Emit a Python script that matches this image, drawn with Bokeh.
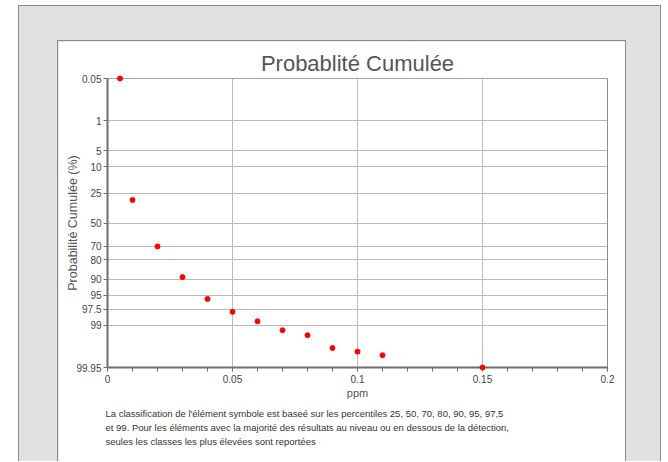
from statistics import NormalDist
from bokeh.plotting import figure
from bokeh.layouts import column
from bokeh.models import (Range1d, FixedTicker, SingleIntervalTicker, CustomJSTickFormatter,
                          Title, ColumnDataSource)
from bokeh.embed import file_html
from bokeh.resources import INLINE

# ---- data ----
ppm = [0.005, 0.01, 0.02, 0.03, 0.04, 0.05, 0.06, 0.07, 0.08, 0.09, 0.10, 0.11, 0.15]
cum_pct = [0.05, 30.0, 70.3, 89.1, 95.8, 97.85, 98.74, 99.27, 99.47, 99.78, 99.83, 99.87, 99.95]
y_tick_pct = [0.05, 1, 5, 10, 25, 50, 70, 80, 90, 95, 97.5, 99, 99.95]
y_tick_labels = ["0.05", "1", "5", "10", "25", "50", "70", "80", "90", "95", "97.5", "99", "99.95"]
title_text = "Probablité Cumulée"
y_label = "Probabilité Cumulée (%)"
x_label = "ppm"
note_lines = [
    "La classification de l'élément symbole est baseé sur les percentiles 25, 50, 70, 80, 90, 95, 97,5",
    "et 99. Pour les éléments avec la majorité des résultats au niveau ou en dessous de la détection,",
    "seules les classes les plus élevées sont reportées",
]

nd = NormalDist()
def z(p):
    return nd.inv_cdf(p / 100.0)

y_ticks_z = [z(v) for v in y_tick_pct]
zmax = z(99.95)

src = ColumnDataSource(dict(x=ppm, y=[z(v) for v in cum_pct]))

FONT = "Liberation Sans"

p = figure(width=569, height=421, output_backend="svg", toolbar_location=None,
           x_range=Range1d(0, 0.2), y_range=Range1d(zmax, -zmax),
           min_border_left=49, min_border_right=20, min_border_top=37, min_border_bottom=95,
           background_fill_color="white", border_fill_color="white",
           outline_line_color="#8c8c8c", outline_line_width=1,
           styles={"border": "1px solid #8a8a8a", "border-bottom": "none"})

p.scatter("x", "y", source=src, size=5, color="#ff0000", line_color="#ff0000", level="overlay")

p.title.text = title_text
p.title.align = "center"
p.title.text_font = FONT
p.title.text_font_size = "22px"
p.title.text_font_style = "normal"
p.title.text_color = "#555555"
p.title.standoff = 6

# axes
xa = p.xaxis[0]
xa.ticker = SingleIntervalTicker(interval=0.05, num_minor_ticks=5)
xa.formatter = CustomJSTickFormatter(code="return String(parseFloat(tick.toFixed(3)));")
ya = p.yaxis[0]
ya.ticker = FixedTicker(ticks=y_ticks_z)
ya.formatter = CustomJSTickFormatter(args=dict(zs=y_ticks_z, labels=y_tick_labels), code="""
let best = 0, bd = 1e9;
for (let i = 0; i < zs.length; i++) { const d = Math.abs(zs[i] - tick); if (d < bd) { bd = d; best = i; } }
return labels[best];
""")
for ax in (xa, ya):
    ax.axis_line_color = "#6e6e6e"
    ax.axis_line_width = 2
    ax.major_tick_line_color = "#6e6e6e"
    ax.minor_tick_line_color = "#6e6e6e"
    ax.major_tick_in = 0
    ax.major_tick_out = 4
    ax.minor_tick_in = 0
    ax.minor_tick_out = 4
    ax.major_label_text_font = FONT
    ax.major_label_text_font_size = "10px"
    ax.major_label_text_color = "#444444"
    ax.axis_label_text_font = FONT
    ax.axis_label_text_font_style = "normal"
    ax.axis_label_text_color = "#555555"
ya.minor_tick_out = 0
ya.major_label_standoff = 2
xa.major_label_standoff = 3
xa.axis_label = x_label
xa.axis_label_text_font_size = "11px"
xa.axis_label_standoff = 1
ya.axis_label = y_label
ya.axis_label_text_font_size = "12.5px"
ya.axis_label_standoff = -7

p.xgrid.ticker = SingleIntervalTicker(interval=0.05)
p.xgrid.grid_line_color = "#b9b9b9"
p.ygrid.grid_line_color = "#b9b9b9"

# footnote (three lines) below the x axis
p.add_layout(Title(text="\n".join(note_lines), align="left", offset=-2, standoff=9,
                   text_font=FONT, text_font_size="9.5px", text_line_height=1.29,
                   text_font_style="normal", text_color="#333333"), "below")

outer = column(p, styles={"background-color": "#e0e0e0", "border": "1px solid #8a8a8a",
                          "border-bottom": "none", "padding": "34px 34px 0px 38px"},
               margin=(5, 0, 0, 18))

open("out.html", "w").write(file_html(outer, INLINE))
